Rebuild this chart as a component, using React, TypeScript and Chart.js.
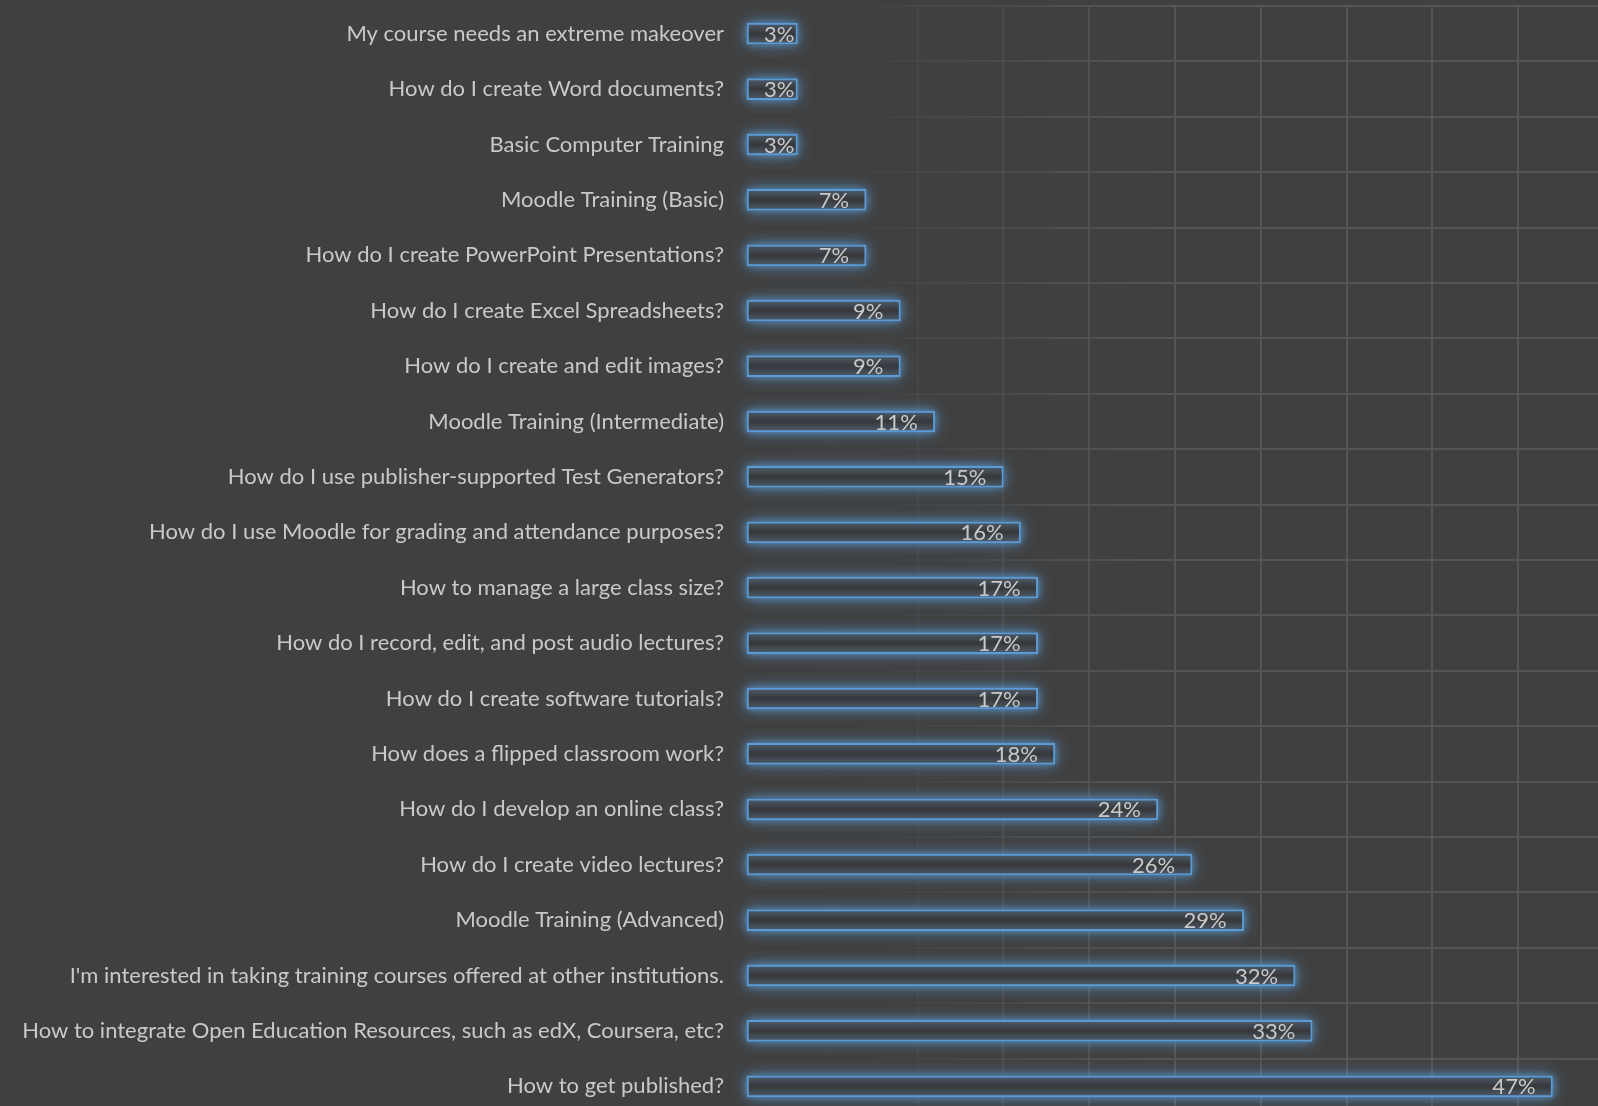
import React, { useEffect, useRef } from "react";
import { Chart, registerables } from "chart.js";

Chart.register(...registerables);

const categories = [
  "My course needs an extreme makeover",
  "How do I create Word documents?",
  "Basic Computer Training",
  "Moodle Training (Basic)",
  "How do I create PowerPoint Presentations?",
  "How do I create Excel Spreadsheets?",
  "How do I create and edit images?",
  "Moodle Training (Intermediate)",
  "How do I use publisher-supported Test Generators?",
  "How do I use Moodle for grading and attendance purposes?",
  "How to manage a large class size?",
  "How do I record, edit, and post audio lectures?",
  "How do I create software tutorials?",
  "How does a flipped classroom work?",
  "How do I develop an online class?",
  "How do I create video lectures?",
  "Moodle Training (Advanced)",
  "I'm interested in taking training courses offered at other institutions.",
  "How to integrate Open Education Resources, such as edX, Coursera, etc?",
  "How to get published?",
];

const percentValues = [3, 3, 3, 7, 7, 9, 9, 11, 15, 16, 17, 17, 17, 18, 24, 26, 29, 32, 33, 47];

const FONT = "Lato, 'Open Sans', sans-serif";

const glowAndLabels = {
  id: "glowAndLabels",
  beforeDatasetsDraw(chart: any) {
    const ctx = chart.ctx;
    const meta = chart.getDatasetMeta(0);
    ctx.save();
    ctx.fillStyle = "#3d4146";
    for (const pass of [
      { blur: 16, color: "rgba(91,155,213,0.8)" },
      { blur: 7, color: "rgba(91,155,213,0.7)" },
    ]) {
      ctx.shadowColor = pass.color;
      ctx.shadowBlur = pass.blur;
      meta.data.forEach((el: any) => {
        const { x, y, base, height } = el.getProps(["x", "y", "base", "height"], true);
        ctx.fillRect(Math.min(base, x), y - height / 2, Math.abs(x - base), height);
      });
    }
    ctx.restore();
  },
  afterDatasetsDraw(chart: any) {
    const ctx = chart.ctx;
    const meta = chart.getDatasetMeta(0);
    ctx.save();
    ctx.font = `22px ${FONT}`;
    ctx.fillStyle = "#c9c9c9";
    ctx.textAlign = "right";
    ctx.textBaseline = "middle";
    meta.data.forEach((el: any, i: number) => {
      const { x, y, base } = el.getProps(["x", "y", "base"], true);
      const text = `${percentValues[i]}%`;
      const w = ctx.measureText(text).width;
      const right = Math.max(x - 17, base + w + 17);
      ctx.fillText(text, right, y + 1);
    });
    ctx.restore();
  },
};

function gridColor(c: any) {
  const chart = c.chart;
  const area = chart.chartArea;
  if (!area) return "#555555";
  const g = chart.ctx.createLinearGradient(area.left, 0, area.left + 420, 0);
  g.addColorStop(0, "rgba(85,85,85,0)");
  g.addColorStop(0.3, "rgba(85,85,85,0.15)");
  g.addColorStop(1, "rgba(85,85,85,1)");
  return g;
}

function barFill(c: any) {
  const chart = c.chart;
  if (!chart.chartArea || !chart.scales.y) return "#3d4146";
  const y = chart.scales.y.getPixelForValue(c.dataIndex);
  const h = 21;
  const g = chart.ctx.createLinearGradient(0, y - h / 2, 0, y + h / 2);
  g.addColorStop(0, "#4d5e70");
  g.addColorStop(0.3, "#40464d");
  g.addColorStop(0.5, "#36383b");
  g.addColorStop(0.7, "#40464d");
  g.addColorStop(1, "#4d5e70");
  return g;
}

export default function App() {
  const ref = useRef<HTMLCanvasElement | null>(null);

  useEffect(() => {
    if (!ref.current) return;
    const chart = new Chart(ref.current, {
      type: "bar",
      data: {
        labels: categories,
        datasets: [
          {
            data: percentValues,
            backgroundColor: barFill as any,
            borderColor: "#5b9bd5",
            borderWidth: 2,
            borderSkipped: false,
            barThickness: 21,
          },
        ],
      },
      options: {
        indexAxis: "y",
        animation: false,
        responsive: false,
        devicePixelRatio: 1,
        layout: { padding: { top: 6, bottom: 2, left: 0, right: 0 } },
        plugins: {
          legend: { display: false },
          tooltip: { enabled: false },
        },
        scales: {
          x: {
            type: "linear",
            min: 0,
            max: 50,
            position: "bottom",
            afterFit: (scale: any) => {
              scale.height = 0;
              scale.paddingLeft = 0;
              scale.paddingRight = 0;
            },
            ticks: { display: false, stepSize: 5 },
            grid: { color: gridColor as any, lineWidth: 2, drawTicks: false },
            border: { display: false },
          },
          y: {
            type: "category",
            afterFit: (scale: any) => {
              scale.width = 746;
              scale.paddingTop = 0;
              scale.paddingBottom = 0;
            },
            ticks: {
              color: "#c9c9c9",
              font: { family: FONT, size: 22 },
              padding: 22,
              autoSkip: false,
            },
            grid: { color: gridColor as any, lineWidth: 2, drawTicks: false, offset: true },
            border: { display: false },
          },
        },
      },
      plugins: [glowAndLabels],
    });
    return () => chart.destroy();
  }, []);

  return (
    <div
      style={{
        position: "fixed",
        left: 0,
        top: 0,
        width: 1598,
        height: 1106,
        overflow: "hidden",
        background: "#404040",
      }}
    >
      <canvas ref={ref} width={1604} height={1116} style={{ display: "block" }} />
    </div>
  );
}
